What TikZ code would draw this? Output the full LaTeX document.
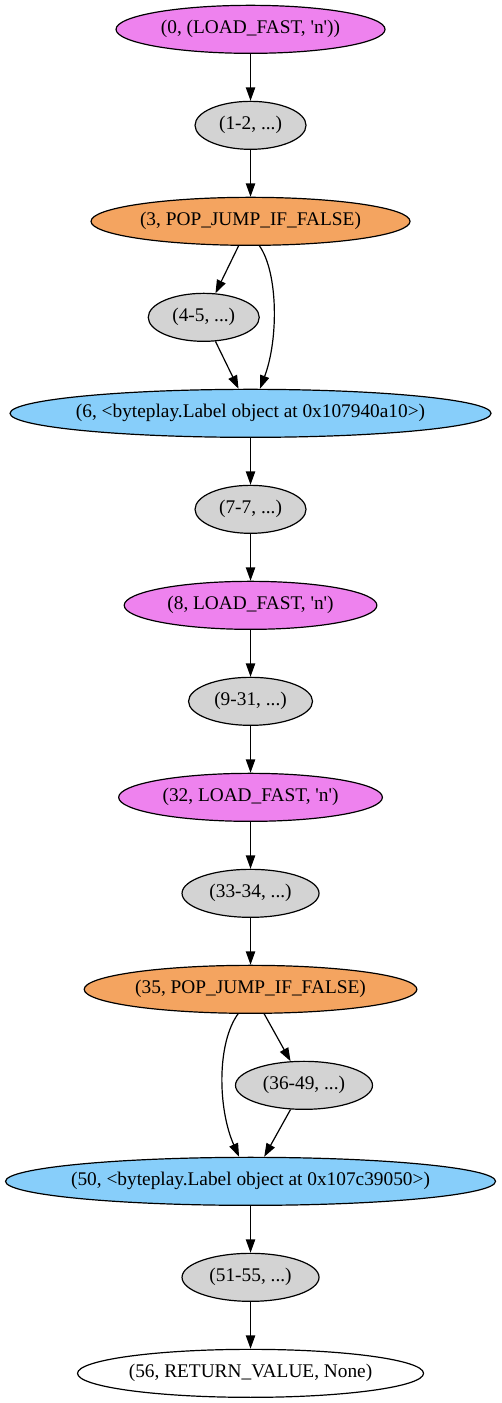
\documentclass[tikz,border=0pt]{standalone}
\usepackage{fontspec}
\setmainfont{Liberation Serif}
\usetikzlibrary{shapes.geometric, arrows.meta}
\definecolor{gvviolet}{HTML}{EE82EE}
\definecolor{gvgray}{HTML}{D3D3D3}
\definecolor{gvsandy}{HTML}{F4A460}
\definecolor{gvsky}{HTML}{87CEFA}
\newcommand\sq{\textquotesingle}
\begin{document}
\begin{tikzpicture}[x=1pt, y=1pt,
        block/.style={ellipse, draw, line width=0.9pt, minimum height=36pt,
            inner xsep=-8pt, inner ysep=0pt, font=\fontsize{14.5pt}{16pt}\selectfont},
        edge/.style={line width=0.9pt, -{Triangle[length=10pt, width=7pt]}}]
            \useasboundingbox (0, 0) rectangle (375.75, -1052.25);

            \node[block, fill=gvviolet, minimum width=201.75pt] (n0) at (187.9, -22) {(0, (LOAD\_FAST, \sq n\sq))};
            \node[block, fill=gvgray, minimum width=83.25pt] (n1) at (187.9, -94) {(1-2, ...)};
            \node[block, fill=gvsandy, minimum width=239.25pt] (n3) at (187.9, -166) {(3, POP\_JUMP\_IF\_FALSE)};
            \node[block, fill=gvgray, minimum width=83.25pt] (n4) at (152.8, -238) {(4-5, ...)};
            \node[block, fill=gvsky, minimum width=360.75pt] (n6) at (187.9, -310) {(6, <byteplay.Label object at 0x107940a10>)};
            \node[block, fill=gvgray, minimum width=83.25pt] (n7) at (187.9, -382) {(7-7, ...)};
            \node[block, fill=gvviolet, minimum width=189.5pt] (n8) at (187.9, -454) {(8, LOAD\_FAST, \sq n\sq)};
            \node[block, fill=gvgray, minimum width=93pt] (n9) at (187.9, -526) {(9-31, ...)};
            \node[block, fill=gvviolet, minimum width=197.8pt] (n32) at (187.9, -598) {(32, LOAD\_FAST, \sq n\sq)};
            \node[block, fill=gvgray, minimum width=102.75pt] (n33) at (187.9, -670) {(33-34, ...)};
            \node[block, fill=gvsandy, minimum width=249.5pt] (n35) at (187.9, -742) {(35, POP\_JUMP\_IF\_FALSE)};
            \node[block, fill=gvgray, minimum width=102.75pt] (n36) at (228, -814) {(36-49, ...)};
            \node[block, fill=gvsky, minimum width=367.5pt] (n50) at (187.9, -886) {(50, <byteplay.Label object at 0x107c39050>)};
            \node[block, fill=gvgray, minimum width=102.75pt] (n51) at (187.9, -958) {(51-55, ...)};
            \node[block, fill=white, minimum width=259.5pt] (n56) at (187.9, -1030) {(56, RETURN\_VALUE, None)};

            \draw[edge] (n0) -- (n1);
            \draw[edge] (n1) -- (n3);
            \draw[edge] (n3) -- (n4);
            \draw[edge] (n3.-70) .. controls +(14, -20) and +(14, 37) .. (n6.69);
            \draw[edge] (n4) -- (n6);
            \draw[edge] (n6) -- (n7);
            \draw[edge] (n7) -- (n8);
            \draw[edge] (n8) -- (n9);
            \draw[edge] (n9) -- (n32);
            \draw[edge] (n32) -- (n33);
            \draw[edge] (n33) -- (n35);
            \draw[edge] (n35.-117) .. controls +(-16, -22) and +(-16, 36) .. (n50.115);
            \draw[edge] (n35) -- (n36);
            \draw[edge] (n36) -- (n50);
            \draw[edge] (n50) -- (n51);
            \draw[edge] (n51) -- (n56);
        \end{tikzpicture}
\end{document}
